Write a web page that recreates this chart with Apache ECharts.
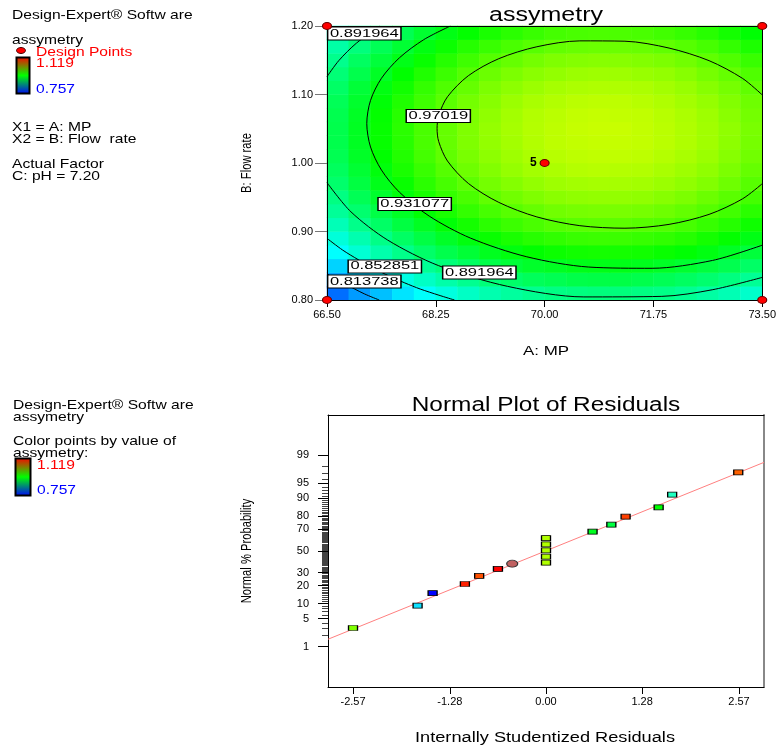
<!DOCTYPE html>
<html><head><meta charset="utf-8">
<script src="https://cdn.jsdelivr.net/npm/echarts@6/dist/echarts.min.js"></script>
<style>html,body{margin:0;padding:0;background:#fff}#c{width:779px;height:749px}</style>
</head><body><div id="c"></div>
<script>
// ---------- top plot: contour of assymetry ----------
const mpTicks = [66.5, 68.25, 70.0, 71.75, 73.5];
const flowTicks = [0.8, 0.9, 1.0, 1.1, 1.2];
// surface cells (20 x 20), bottom row first (Flow rate 0.81 .. 1.19), columns MP 66.675 .. 73.325
const heatRows = [
[0.796,0.812,0.825,0.838,0.849,0.859,0.868,0.876,0.882,0.887,0.891,0.893,0.894,0.894,0.892,0.890,0.886,0.880,0.874,0.866],
[0.815,0.830,0.844,0.857,0.868,0.878,0.887,0.895,0.901,0.906,0.909,0.912,0.913,0.913,0.911,0.908,0.904,0.899,0.893,0.885],
[0.832,0.847,0.861,0.874,0.885,0.895,0.904,0.912,0.918,0.923,0.926,0.929,0.930,0.930,0.928,0.925,0.921,0.916,0.910,0.902],
[0.848,0.863,0.877,0.889,0.901,0.911,0.919,0.927,0.933,0.938,0.942,0.944,0.945,0.945,0.944,0.941,0.937,0.932,0.925,0.917],
[0.861,0.876,0.890,0.903,0.914,0.924,0.933,0.941,0.947,0.952,0.955,0.958,0.959,0.959,0.957,0.955,0.951,0.945,0.939,0.931],
[0.873,0.889,0.902,0.915,0.926,0.936,0.945,0.953,0.959,0.964,0.968,0.970,0.971,0.971,0.969,0.967,0.963,0.957,0.951,0.943],
[0.884,0.899,0.913,0.925,0.937,0.947,0.956,0.963,0.969,0.974,0.978,0.980,0.981,0.981,0.980,0.977,0.973,0.968,0.961,0.953],
[0.892,0.908,0.922,0.934,0.946,0.956,0.964,0.972,0.978,0.983,0.987,0.989,0.990,0.990,0.989,0.986,0.982,0.976,0.970,0.962],
[0.900,0.915,0.929,0.941,0.953,0.963,0.971,0.979,0.985,0.990,0.994,0.996,0.997,0.997,0.996,0.993,0.989,0.984,0.977,0.969],
[0.905,0.920,0.934,0.947,0.958,0.968,0.977,0.984,0.991,0.996,0.999,1.002,1.003,1.002,1.001,0.998,0.994,0.989,0.982,0.974],
[0.909,0.924,0.938,0.950,0.962,0.972,0.981,0.988,0.994,0.999,1.003,1.005,1.006,1.006,1.005,1.002,0.998,0.993,0.986,0.978],
[0.911,0.926,0.940,0.952,0.964,0.974,0.983,0.990,0.996,1.001,1.005,1.007,1.008,1.008,1.007,1.004,1.000,0.995,0.988,0.980],
[0.911,0.926,0.940,0.953,0.964,0.974,0.983,0.991,0.997,1.002,1.005,1.008,1.009,1.009,1.007,1.004,1.000,0.995,0.989,0.981],
[0.910,0.925,0.939,0.952,0.963,0.973,0.982,0.989,0.996,1.001,1.004,1.007,1.008,1.007,1.006,1.003,0.999,0.994,0.987,0.979],
[0.907,0.922,0.936,0.949,0.960,0.970,0.979,0.986,0.993,0.998,1.001,1.004,1.005,1.005,1.003,1.000,0.996,0.991,0.984,0.977],
[0.902,0.918,0.932,0.944,0.956,0.966,0.974,0.982,0.988,0.993,0.997,0.999,1.000,1.000,0.999,0.996,0.992,0.986,0.980,0.972],
[0.896,0.911,0.925,0.938,0.949,0.959,0.968,0.976,0.982,0.987,0.990,0.993,0.994,0.994,0.992,0.990,0.986,0.980,0.974,0.966],
[0.888,0.904,0.917,0.930,0.941,0.951,0.960,0.968,0.974,0.979,0.983,0.985,0.986,0.986,0.984,0.982,0.978,0.972,0.966,0.958],
[0.879,0.894,0.908,0.920,0.932,0.942,0.951,0.958,0.964,0.969,0.973,0.975,0.976,0.976,0.975,0.972,0.968,0.963,0.956,0.948],
[0.868,0.883,0.897,0.909,0.921,0.931,0.939,0.947,0.953,0.958,0.962,0.964,0.965,0.965,0.964,0.961,0.957,0.952,0.945,0.937]
];
const colorMin = 0.757, colorMax = 1.119;
// contour lines: [MP, Flow rate]
const contour097019 = [[73.5,1.0994],[73.18,1.1237],[72.645,1.1494],[72.001,1.1678],[71.292,1.1778],[70.567,1.1783],[69.875,1.1697],[69.263,1.1523],[68.773,1.1274],[68.438,1.0967],[68.297,1.0694],[68.27,1.0503],[68.297,1.0312],[68.438,1.0029],[68.773,0.9702],[69.263,0.9425],[69.875,0.9213],[70.567,0.9085],[71.292,0.9048],[72.001,0.9104],[72.645,0.925],[73.18,0.9475],[73.5,0.9698]];
const contour0931077 = [[68.485,1.2],[68.055,1.180],[67.664,1.1535],[67.376,1.1237],[67.2,1.0914],[67.14,1.0576],[67.2,1.0234],[67.376,0.9897],[67.664,0.9575],[68.144,0.9225],[68.807,0.8904],[69.713,0.8631],[70.709,0.8481],[71.729,0.8463],[72.702,0.8578],[73.5,0.880]];
const contour0891964a = [[66.5,1.126],[66.69,1.1495],[66.971,1.1748],[67.35,1.2]];
const contour0891964b = [[66.5,0.9714],[66.885,0.9287],[67.476,0.8875],[68.291,0.8503],[69.405,0.8199],[70.631,0.8045],[71.885,0.8053],[72.695,0.8149],[73.5,0.833]];
const contour0852851 = [[66.5,0.890],[66.75,0.873],[67.0,0.859],[67.25,0.846],[67.5,0.835],[67.75,0.825],[68.0,0.816],[68.3,0.807],[68.55,0.8]];
const contour0813738 = [[66.5,0.838],[66.8,0.823],[67.1,0.809],[67.34,0.8]];
const contourLabelText = ['0.891964','0.97019','0.931077','0.852851','0.813738','0.891964'];
const contourLabelX = [67.10, 68.29, 67.91, 67.43, 67.10, 68.95];
const contourLabelY = [1.189, 1.0686, 0.940, 0.849, 0.827, 0.840];
// design points
const designX = [66.5, 66.5, 73.5, 73.5, 70.0];
const designY = [0.8, 1.2, 0.8, 1.2, 1.0];
const designCount = [1, 1, 1, 1, 5];

// ---------- bottom plot: normal plot of residuals ----------
const residTicks = [-2.57, -1.28, 0.00, 1.28, 2.57];
const probTicks = [1, 5, 10, 20, 30, 50, 70, 80, 90, 95, 99];
const residX = [-2.57,-1.71,-1.51,-1.08,-0.89,-0.64,0.00,0.00,0.00,0.00,0.00,0.62,0.87,1.06,1.50,1.68,2.56];
const residP = [3.05,9.2,15.2,21.1,27.2,33.1,38.8,44.5,50.7,56.5,62.4,68.1,73.9,79.8,85.6,91.5,97.2];
const residColor = ['#80ff00','#10e0ff','#0000ff','#ff2000','#ff5000','#ff0000','#b0ff00','#b0ff00','#b0ff00','#b0ff00','#b0ff00','#00ff20','#00ff40','#ff4000','#00ff00','#20ffc0','#ff6000'];
const highlightX = [-0.45];
const highlightP = [37.9];
const refLineX = [-2.903, 2.903];
const refLineP = [1.59, 98.45];

// probability scale (inverse normal CDF)
function probit(p){
  const a=[-3.969683028665376e+01,2.209460984245205e+02,-2.759285104469687e+02,1.383577518672690e+02,-3.066479806614716e+01,2.506628277459239e+00];
  const b=[-5.447609879822406e+01,1.615858368580409e+02,-1.556989798598866e+02,6.680131188771972e+01,-1.328068115201041e+01];
  const c=[-7.784894002430293e-03,-3.223964580411365e-01,-2.400758277161838e+00,-2.549732539343734e+00,4.374664141464968e+00,2.938163982698783e+00];
  const d=[7.784695709041462e-03,3.224671290700398e-01,2.445134137142996e+00,3.754408661907416e+00];
  const pl=0.02425, ph=1-pl; let q,r;
  if(p<pl){q=Math.sqrt(-2*Math.log(p));return (((((c[0]*q+c[1])*q+c[2])*q+c[3])*q+c[4])*q+c[5])/((((d[0]*q+d[1])*q+d[2])*q+d[3])*q+1);}
  if(p<=ph){q=p-0.5;r=q*q;return (((((a[0]*r+a[1])*r+a[2])*r+a[3])*r+a[4])*r+a[5])*q/(((((b[0]*r+b[1])*r+b[2])*r+b[3])*r+b[4])*r+1);}
  q=Math.sqrt(-2*Math.log(1-p));return -(((((c[0]*q+c[1])*q+c[2])*q+c[3])*q+c[4])*q+c[5])/((((d[0]*q+d[1])*q+d[2])*q+d[3])*q+1);
}
const pz = v => probit(v/100);
const majorZ = probTicks.map(pz);
const minorZ = [];
for (let i = 1; i <= 99; i++) if (probTicks.indexOf(i) < 0) minorZ.push(pz(i));

// ---------- build ----------
const heatData = [];
heatRows.forEach((row, j) => row.forEach((v, i) => heatData.push([i, j, v])));
const cats = Array.from({length: 20}, (_, i) => String(i));
const FONT = '"Liberation Sans", Arial, sans-serif';

function contourSeries(pts){
  return {type:'line', xAxisIndex:1, yAxisIndex:1, data:pts, symbol:'none', smooth:0.3, silent:true, z:5,
    lineStyle:{color:'#000', width:1}};
}
function txt(x, y, s, opt){
  opt = opt || {};
  return {type:'text', x:x, y:y, scaleX:opt.sx || 1.2, rotation:opt.rot || 0,
    style:{text:s, font:(opt.size || 13)+'px '+FONT, fill:opt.color || '#000', align:opt.align || 'left', verticalAlign:'middle'}};
}
const barFill = () => new echarts.graphic.LinearGradient(0,0,0,1,[{offset:0,color:'#ff0000'},{offset:0.5,color:'#00ff00'},{offset:1,color:'#0000ff'}]);

const chart = echarts.init(document.getElementById('c'), null, {renderer:'canvas'});
const labelFont = '11px ' + FONT;
chart.setOption({
  animation:false,
  backgroundColor:'#fff',
  grid:[
    {left:327, top:26, width:438, height:274},
    {left:328, top:415, width:436, height:272}
  ],
  visualMap:{show:false, type:'continuous', seriesIndex:0, min:colorMin, max:colorMax,
    inRange:{color:['#0000ff','#00ffff','#00ff00','#ffff00','#ff0000']}},
  xAxis:[
    {gridIndex:0, type:'category', data:cats, show:false},
    {gridIndex:0, type:'value', min:66.5, max:73.5, interval:1.75, position:'bottom', z:10,
      axisLine:{onZero:false, lineStyle:{color:'#000', width:1}}, axisTick:{show:true, length:7, lineStyle:{color:'#000'}},
      axisLabel:{fontSize:11, fontFamily:FONT, color:'#000', margin:9, formatter:v=>v.toFixed(2)}, splitLine:{show:false}},
    {gridIndex:0, type:'value', min:66.5, max:73.5, position:'top', z:10,
      axisLine:{onZero:false, lineStyle:{color:'#000'}}, axisTick:{show:false}, axisLabel:{show:false}, splitLine:{show:false}},
    {gridIndex:1, type:'value', min:-2.903, max:2.903, position:'bottom',
      axisLine:{onZero:false, lineStyle:{color:'#000'}},
      axisTick:{show:true, length:7, customValues:residTicks, lineStyle:{color:'#000'}},
      axisLabel:{fontSize:11, fontFamily:FONT, color:'#000', margin:9, customValues:residTicks, formatter:v=>v.toFixed(2)},
      splitLine:{show:false}},
    {gridIndex:1, type:'value', min:-2.903, max:2.903, position:'top',
      axisLine:{onZero:false, lineStyle:{color:'#000'}}, axisTick:{show:false}, axisLabel:{show:false}, splitLine:{show:false}}
  ],
  yAxis:[
    {gridIndex:0, type:'category', data:cats, show:false},
    {gridIndex:0, type:'value', min:0.8, max:1.2, interval:0.1, position:'left', z:10,
      axisLine:{onZero:false, lineStyle:{color:'#000'}}, axisTick:{show:true, length:12, lineStyle:{color:'#777'}},
      axisLabel:{fontSize:11, fontFamily:FONT, color:'#000', margin:14, formatter:v=>v.toFixed(2)}, splitLine:{show:false}},
    {gridIndex:0, type:'value', min:0.8, max:1.2, position:'right', z:10,
      axisLine:{onZero:false, lineStyle:{color:'#000'}}, axisTick:{show:false}, axisLabel:{show:false}, splitLine:{show:false}},
    {gridIndex:1, type:'value', min:-3.309, max:3.309, position:'left',
      axisLine:{onZero:false, lineStyle:{color:'#000'}},
      axisTick:{show:true, length:10, customValues:majorZ, lineStyle:{color:'#000'}},
      axisLabel:{fontSize:11, fontFamily:FONT, color:'#000', margin:19, customValues:majorZ,
        formatter:v=>{let best=0;for(let k=1;k<majorZ.length;k++) if(Math.abs(majorZ[k]-v)<Math.abs(majorZ[best]-v)) best=k; return String(probTicks[best]);}},
      splitLine:{show:false}},
    {gridIndex:1, type:'value', min:-3.309, max:3.309, position:'left',
      axisLine:{show:false, onZero:false}, axisTick:{show:true, length:6, customValues:minorZ, lineStyle:{color:'#444'}},
      axisLabel:{show:false}, splitLine:{show:false}},
    {gridIndex:1, type:'value', min:-3.309, max:3.309, position:'right',
      axisLine:{onZero:false, lineStyle:{color:'#888', width:2}}, axisTick:{show:false}, axisLabel:{show:false}, splitLine:{show:false}}
  ],
  series:[
    {type:'heatmap', xAxisIndex:0, yAxisIndex:0, data:heatData, progressive:0, silent:true,
      itemStyle:{borderWidth:0}, emphasis:{disabled:true}},
    contourSeries(contour097019),
    contourSeries(contour0931077),
    contourSeries(contour0891964a),
    contourSeries(contour0891964b),
    contourSeries(contour0852851),
    contourSeries(contour0813738),
    {type:'custom', xAxisIndex:1, yAxisIndex:1, z:20, clip:false, silent:true,
      data: contourLabelX.map((x,i)=>[x, contourLabelY[i]]),
      renderItem:(params, api)=>{
        const p = api.coord([api.value(0), api.value(1)]);
        return {type:'text', x:p[0], y:p[1], scaleX:1.5,
          style:{text:contourLabelText[params.dataIndex], font:labelFont, fill:'#000',
            align:'center', verticalAlign:'middle', backgroundColor:'#fff', borderColor:'#000', borderWidth:1,
            padding:[1,1,0,1], lineHeight:11}};
      }},
    {type:'scatter', xAxisIndex:1, yAxisIndex:1, z:30, clip:false, silent:true,
      data: designX.map((x,i)=>[x, designY[i], designCount[i]]),
      symbol:'circle', symbolSize:[9,7],
      itemStyle:{color:'#ff0000', borderColor:'#600', borderWidth:1, opacity:1},
      label:{show:true, position:'left', distance:3, fontSize:12, fontWeight:'bold', fontFamily:FONT, color:'#000',
        formatter:p=>p.value[2]>1?String(p.value[2]):''}},
    {type:'line', xAxisIndex:3, yAxisIndex:3, data: refLineX.map((x,i)=>[x, pz(refLineP[i])]),
      symbol:'none', silent:true, z:3, lineStyle:{color:'#ff8080', width:1}},
    {type:'scatter', xAxisIndex:3, yAxisIndex:3, z:10, silent:true,
      data: residX.map((x,i)=>({value:[x, pz(residP[i])], itemStyle:{color:residColor[i]}})),
      symbol:'rect', symbolSize:[9,5],
      itemStyle:{borderColor:'#000', borderWidth:1, opacity:1}},
    {type:'scatter', xAxisIndex:3, yAxisIndex:3, z:10, silent:true,
      data: highlightX.map((x,i)=>[x, pz(highlightP[i])]),
      symbol:'circle', symbolSize:[11,7],
      itemStyle:{color:'#c06060', borderColor:'#333', borderWidth:1, opacity:1}}
  ],
  graphic:[
    // top-left legend
    txt(12, 15, 'Design-Expert® Softw are'),
    txt(12, 40, 'assymetry'),
    {type:'ellipse', shape:{cx:21, cy:50.5, rx:4.5, ry:3}, style:{fill:'#ff0000', stroke:'#400', lineWidth:1}},
    txt(36, 52, 'Design Points', {color:'#ff0000'}),
    {type:'rect', shape:{x:16.5, y:57.5, width:13, height:36}, style:{fill:barFill(), stroke:'#000', lineWidth:2}},
    txt(36, 63, '1.119', {color:'#ff0000'}),
    txt(36, 89, '0.757', {color:'#0000ff'}),
    txt(12, 127, 'X1 = A: MP'),
    txt(12, 139, 'X2 = B: Flow  rate'),
    txt(12, 164, 'Actual Factor'),
    txt(12, 176, 'C: pH = 7.20'),
    // top plot titles
    txt(546, 15, 'assymetry', {size:20, sx:1.25, align:'center'}),
    txt(546, 351, 'A: MP', {size:13, sx:1.3, align:'center'}),
    txt(247, 163, 'B: Flow rate', {size:14, sx:0.8, align:'center', rot:Math.PI/2}),
    // bottom-left legend
    txt(13, 405, 'Design-Expert® Softw are'),
    txt(13, 417, 'assymetry'),
    txt(13, 441, 'Color points by value of'),
    txt(13, 453, 'assymetry:'),
    {type:'rect', shape:{x:15.5, y:458.5, width:15, height:37}, style:{fill:barFill(), stroke:'#000', lineWidth:2}},
    txt(37, 465, '1.119', {color:'#ff0000'}),
    txt(37, 490, '0.757', {color:'#0000ff'}),
    // bottom plot titles
    txt(546, 405, 'Normal Plot of Residuals', {size:20, sx:1.22, align:'center'}),
    txt(545, 738, 'Internally Studentized Residuals', {size:14, sx:1.3, align:'center'}),
    txt(247, 551, 'Normal % Probability', {size:14, sx:0.8, align:'center', rot:Math.PI/2})
  ]
});
</script></body></html>
